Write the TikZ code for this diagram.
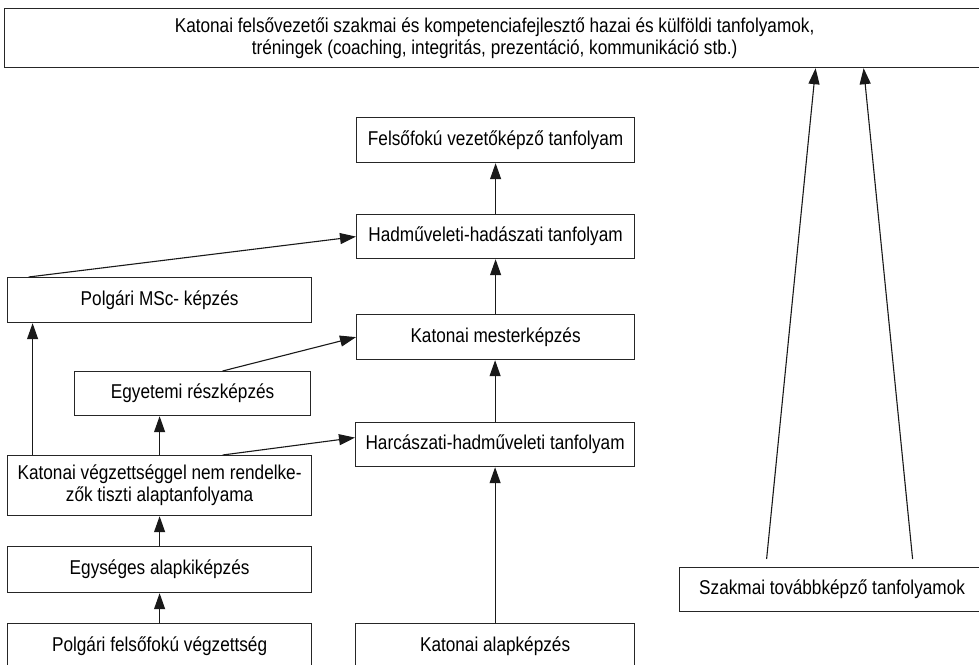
\documentclass[tikz,border=0pt]{standalone}
\usepackage{fontspec}
\setmainfont{Liberation Sans}[FakeStretch=0.86]
\usetikzlibrary{arrows.meta,calc}
\begin{document}
\begin{tikzpicture}[x=1pt,y=-1pt,
  box/.style={draw=black!85, line width=1.2pt, fill=white, inner sep=0pt, align=center,
    anchor=north west, text=black, font=\fontsize{20}{22}\selectfont},
  arr/.style={line width=1.1pt, draw=black!90, -{Triangle[length=16pt,width=11pt]}}]
\useasboundingbox (0,0) rectangle (979,664);
\clip (0,0) rectangle (979,664);
\fill[white] (0,0) rectangle (979,664);
\node[box, minimum width=980pt, minimum height=59pt] (top) at (4,8)
  {Katonai felsővezetői szakmai és kompetenciafejlesztő hazai és külföldi tanfolyamok,\\
   tréningek (coaching, integritás, prezentáció, kommunikáció stb.)};
\node[box, minimum width=278pt, minimum height=45pt] (felso) at (356,117) {Felsőfokú vezetőképző tanfolyam};
\node[box, minimum width=278pt, minimum height=44pt] (hadm) at (356,214) {Hadműveleti-hadászati tanfolyam};
\node[box, minimum width=278pt, minimum height=45pt] (mester) at (356,314) {Katonai mesterképzés};
\node[box, minimum width=279pt, minimum height=44pt] (harc) at (355,422) {Harcászati-hadműveleti tanfolyam};
\node[box, minimum width=279pt, minimum height=45pt] (alap) at (355,623) {Katonai alapképzés};
\node[box, minimum width=304pt, minimum height=45pt] (msc) at (7,277) {Polgári MSc- képzés};
\node[box, minimum width=236pt, minimum height=44pt] (egyetemi) at (74,371) {Egyetemi részképzés};
\node[box, minimum width=304pt, minimum height=60pt] (katvegz) at (7,455) {Katonai végzettséggel nem rendelke-\\zők tiszti alaptanfolyama};
\node[box, minimum width=304pt, minimum height=46pt] (egyseges) at (7,546) {Egységes alapkiképzés};
\node[box, minimum width=304pt, minimum height=45pt] (polgfelso) at (7,623) {Polgári felsőfokú végzettség};
\node[box, minimum width=305pt, minimum height=44pt] (szakmai) at (679,567) {Szakmai továbbképző tanfolyamok};

\draw[arr] (alap.north) -- (alap.north |- harc.south);
\draw[arr] (harc.north) -- (harc.north |- mester.south);
\draw[arr] (mester.north) -- (mester.north |- hadm.south);
\draw[arr] (hadm.north) -- (hadm.north |- felso.south);
\draw[arr] (polgfelso.north) -- (polgfelso.north |- egyseges.south);
\draw[arr] (egyseges.north) -- (egyseges.north |- katvegz.south);
\draw[arr] (katvegz.north) -- (katvegz.north |- egyetemi.south);
\draw[arr] ([xshift=-127pt]katvegz.north) -- ([xshift=-127pt]katvegz.north |- msc.south);
\draw[arr] ([xshift=63pt]katvegz.north) -- ([yshift=7pt]harc.west);
\draw[arr] ([xshift=30pt]egyetemi.north) -- (mester.west);
\draw[arr] ([xshift=-131pt]msc.north) -- (hadm.west);
\draw[arr] ([xshift=-65.5pt,yshift=8pt]szakmai.north) -- ([xshift=321pt]top.south);
\draw[arr] ([xshift=80.5pt,yshift=8pt]szakmai.north) -- ([xshift=369pt]top.south);
\end{tikzpicture}
\end{document}
